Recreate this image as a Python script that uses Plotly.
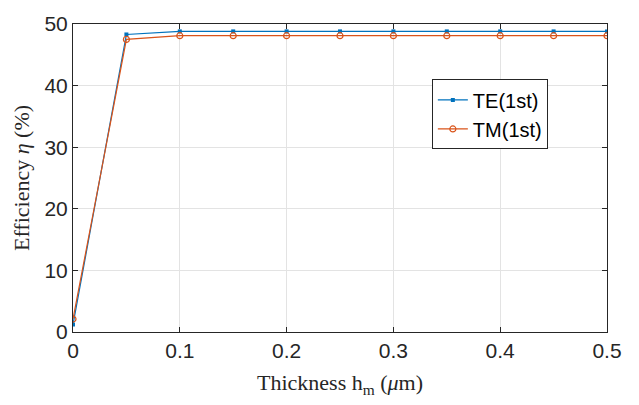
import plotly.graph_objects as go

thickness = [0, 0.05, 0.1, 0.15, 0.2, 0.25, 0.3, 0.35, 0.4, 0.45, 0.5]
te_eff = [1.2, 48.3, 48.8, 48.8, 48.8, 48.8, 48.8, 48.8, 48.8, 48.8, 48.8]
tm_eff = [2.1, 47.5, 48.1, 48.1, 48.1, 48.1, 48.1, 48.1, 48.1, 48.1, 48.1]
x_ticks = [0, 0.1, 0.2, 0.3, 0.4, 0.5]
y_ticks = [0, 10, 20, 30, 40, 50]

fig = go.Figure()
fig.add_trace(go.Scatter(x=thickness, y=te_eff, mode="lines+markers", name="TE(1st)",
                         line=dict(color="#0072BD", width=1.2),
                         marker=dict(symbol="square", size=4, color="#0072BD")))
fig.add_trace(go.Scatter(x=thickness, y=tm_eff, mode="lines+markers", name="TM(1st)",
                         line=dict(color="#D95319", width=1.2),
                         marker=dict(symbol="circle-open", size=6, color="#D95319", line=dict(width=1.2))))

axis_common = dict(showline=True, linecolor="#262626", linewidth=1, mirror="ticks",
                   ticks="inside", ticklen=5, tickcolor="#262626",
                   showgrid=True, gridcolor="#E3E3E3", gridwidth=1, zeroline=False,
                   tickfont=dict(family="Arial, Liberation Sans", size=21, color="#262626"))

fig.update_xaxes(range=[0, 0.5], tickvals=x_ticks, ticktext=[f"{t:g}" for t in x_ticks],
                 title=dict(text="Thickness h<sub>m</sub> (<i>μ</i>m)",
                            font=dict(family="Times New Roman, Liberation Serif", size=22, color="#262626"),
                            standoff=13),
                 **axis_common)
fig.update_yaxes(range=[0, 50], tickvals=y_ticks,
                 title=dict(text="Efficiency <i>η</i> (%)",
                            font=dict(family="Times New Roman, Liberation Serif", size=22, color="#262626"),
                            standoff=8),
                 **axis_common)

fig.update_layout(width=639, height=405, margin=dict(l=73, r=32, t=15, b=73),
                  plot_bgcolor="white", paper_bgcolor="white", showlegend=True,
                  legend=dict(x=0.672, y=0.82, xanchor="left", yanchor="top",
                              bgcolor="white", bordercolor="#262626", borderwidth=1,
                              font=dict(family="Arial, Liberation Sans", size=20, color="#000000"),
                              itemwidth=30, tracegroupgap=0))

fig.write_html("out.html")
